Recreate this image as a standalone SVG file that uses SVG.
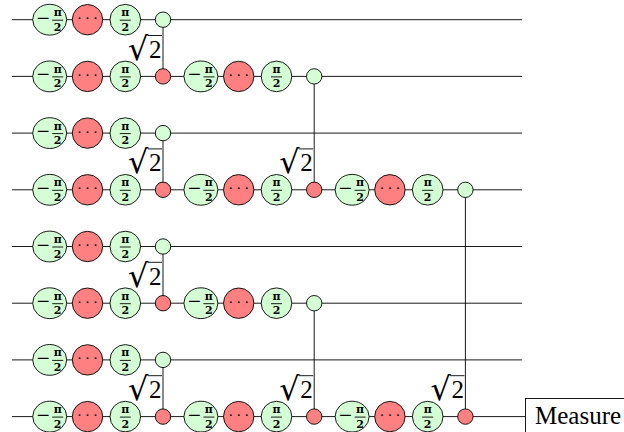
<svg xmlns="http://www.w3.org/2000/svg" width="624" height="432" viewBox="0 0 624 432">
<style>
text{font-family:"DejaVu Serif","Liberation Serif",serif;fill:#000}
.g{fill:#d4ffd4;stroke:#000;stroke-width:.9}
.r{fill:#ff8080;stroke:#000;stroke-width:.9}
.w{stroke:#000;stroke-width:.9;fill:none}
.b{stroke:#000;stroke-width:.9;fill:none}
.f{font-size:11px;font-weight:bold;text-anchor:middle}
.m{font-family:"Liberation Serif",serif;font-size:23px;text-anchor:middle}
.d{font-family:"Liberation Serif",serif;font-size:15px;text-anchor:middle;letter-spacing:3px}
.s{font-family:"Liberation Serif",serif;font-size:25px}
.t{font-family:"DejaVu Sans",sans-serif;font-size:32px}
.l{font-family:"Liberation Serif",serif;font-size:25px}
</style>
<g id="connectors" class="w">
<path d="M12 19.7H522M12 76.4H522M12 133.1H522M12 189.8H522M12 246.5H522M12 303.2H522M12 359.9H522M12 416.6H525"/>
<path d="M163 19.7V76.4M163 133.1V189.8M163 246.5V303.2M163 359.9V416.6M314.2 76.4V189.8M314.2 303.2V416.6M465.4 189.8V416.6"/>
</g>
<g id="n0a" transform="translate(49.7,19.7)"><ellipse class="g" rx="17" ry="15.4"/><text class="m" x="-6.500" y="6">−</text><text class="f" x="8" y="-3.500">π</text><path class="b" d="M2.500 0.500H13.500"/><text class="f" x="8" y="11">2</text></g>
<g id="n0b" transform="translate(87.5,19.7)"><circle class="r" r="15.2"/><text class="d" x="1.500" y="3.500">···</text></g>
<g id="n0c" transform="translate(125.3,19.7)"><circle class="g" r="15.3"/><text class="f" y="-3.500">π</text><path class="b" d="M-5.500 0.500H5.500"/><text class="f" y="11">2</text></g>
<g id="n0z" transform="translate(163,19.7)"><circle class="g" r="7.7"/></g>
<g id="n1a" transform="translate(49.7,76.4)"><ellipse class="g" rx="17" ry="15.4"/><text class="m" x="-6.500" y="6">−</text><text class="f" x="8" y="-3.500">π</text><path class="b" d="M2.500 0.500H13.500"/><text class="f" x="8" y="11">2</text></g>
<g id="n1b" transform="translate(87.5,76.4)"><circle class="r" r="15.2"/><text class="d" x="1.500" y="3.500">···</text></g>
<g id="n1c" transform="translate(125.3,76.4)"><circle class="g" r="15.3"/><text class="f" y="-3.500">π</text><path class="b" d="M-5.500 0.500H5.500"/><text class="f" y="11">2</text></g>
<g id="n1z" transform="translate(163,76.4)"><circle class="r" r="7.7"/></g>
<g id="n1d" transform="translate(200.9,76.4)"><ellipse class="g" rx="17" ry="15.4"/><text class="m" x="-6.500" y="6">−</text><text class="f" x="8" y="-3.500">π</text><path class="b" d="M2.500 0.500H13.500"/><text class="f" x="8" y="11">2</text></g>
<g id="n1e" transform="translate(238.7,76.4)"><circle class="r" r="15.2"/><text class="d" x="1.500" y="3.500">···</text></g>
<g id="n1f" transform="translate(276.5,76.4)"><circle class="g" r="15.3"/><text class="f" y="-3.500">π</text><path class="b" d="M-5.500 0.500H5.500"/><text class="f" y="11">2</text></g>
<g id="n1y" transform="translate(314.2,76.4)"><circle class="g" r="7.7"/></g>
<g id="n2a" transform="translate(49.7,133.1)"><ellipse class="g" rx="17" ry="15.4"/><text class="m" x="-6.500" y="6">−</text><text class="f" x="8" y="-3.500">π</text><path class="b" d="M2.500 0.500H13.500"/><text class="f" x="8" y="11">2</text></g>
<g id="n2b" transform="translate(87.5,133.1)"><circle class="r" r="15.2"/><text class="d" x="1.500" y="3.500">···</text></g>
<g id="n2c" transform="translate(125.3,133.1)"><circle class="g" r="15.3"/><text class="f" y="-3.500">π</text><path class="b" d="M-5.500 0.500H5.500"/><text class="f" y="11">2</text></g>
<g id="n2z" transform="translate(163,133.1)"><circle class="g" r="7.7"/></g>
<g id="n3a" transform="translate(49.7,189.8)"><ellipse class="g" rx="17" ry="15.4"/><text class="m" x="-6.500" y="6">−</text><text class="f" x="8" y="-3.500">π</text><path class="b" d="M2.500 0.500H13.500"/><text class="f" x="8" y="11">2</text></g>
<g id="n3b" transform="translate(87.5,189.8)"><circle class="r" r="15.2"/><text class="d" x="1.500" y="3.500">···</text></g>
<g id="n3c" transform="translate(125.3,189.8)"><circle class="g" r="15.3"/><text class="f" y="-3.500">π</text><path class="b" d="M-5.500 0.500H5.500"/><text class="f" y="11">2</text></g>
<g id="n3z" transform="translate(163,189.8)"><circle class="r" r="7.7"/></g>
<g id="n3d" transform="translate(200.9,189.8)"><ellipse class="g" rx="17" ry="15.4"/><text class="m" x="-6.500" y="6">−</text><text class="f" x="8" y="-3.500">π</text><path class="b" d="M2.500 0.500H13.500"/><text class="f" x="8" y="11">2</text></g>
<g id="n3e" transform="translate(238.7,189.8)"><circle class="r" r="15.2"/><text class="d" x="1.500" y="3.500">···</text></g>
<g id="n3f" transform="translate(276.5,189.8)"><circle class="g" r="15.3"/><text class="f" y="-3.500">π</text><path class="b" d="M-5.500 0.500H5.500"/><text class="f" y="11">2</text></g>
<g id="n3y" transform="translate(314.2,189.8)"><circle class="r" r="7.7"/></g>
<g id="n3g" transform="translate(352.1,189.8)"><ellipse class="g" rx="17" ry="15.4"/><text class="m" x="-6.500" y="6">−</text><text class="f" x="8" y="-3.500">π</text><path class="b" d="M2.500 0.500H13.500"/><text class="f" x="8" y="11">2</text></g>
<g id="n3h" transform="translate(389.9,189.8)"><circle class="r" r="15.2"/><text class="d" x="1.500" y="3.500">···</text></g>
<g id="n3i" transform="translate(427.7,189.8)"><circle class="g" r="15.3"/><text class="f" y="-3.500">π</text><path class="b" d="M-5.500 0.500H5.500"/><text class="f" y="11">2</text></g>
<g id="n3x" transform="translate(465.4,189.8)"><circle class="g" r="7.7"/></g>
<g id="n4a" transform="translate(49.7,246.5)"><ellipse class="g" rx="17" ry="15.4"/><text class="m" x="-6.500" y="6">−</text><text class="f" x="8" y="-3.500">π</text><path class="b" d="M2.500 0.500H13.500"/><text class="f" x="8" y="11">2</text></g>
<g id="n4b" transform="translate(87.5,246.5)"><circle class="r" r="15.2"/><text class="d" x="1.500" y="3.500">···</text></g>
<g id="n4c" transform="translate(125.3,246.5)"><circle class="g" r="15.3"/><text class="f" y="-3.500">π</text><path class="b" d="M-5.500 0.500H5.500"/><text class="f" y="11">2</text></g>
<g id="n4z" transform="translate(163,246.5)"><circle class="g" r="7.7"/></g>
<g id="n5a" transform="translate(49.7,303.2)"><ellipse class="g" rx="17" ry="15.4"/><text class="m" x="-6.500" y="6">−</text><text class="f" x="8" y="-3.500">π</text><path class="b" d="M2.500 0.500H13.500"/><text class="f" x="8" y="11">2</text></g>
<g id="n5b" transform="translate(87.5,303.2)"><circle class="r" r="15.2"/><text class="d" x="1.500" y="3.500">···</text></g>
<g id="n5c" transform="translate(125.3,303.2)"><circle class="g" r="15.3"/><text class="f" y="-3.500">π</text><path class="b" d="M-5.500 0.500H5.500"/><text class="f" y="11">2</text></g>
<g id="n5z" transform="translate(163,303.2)"><circle class="r" r="7.7"/></g>
<g id="n5d" transform="translate(200.9,303.2)"><ellipse class="g" rx="17" ry="15.4"/><text class="m" x="-6.500" y="6">−</text><text class="f" x="8" y="-3.500">π</text><path class="b" d="M2.500 0.500H13.500"/><text class="f" x="8" y="11">2</text></g>
<g id="n5e" transform="translate(238.7,303.2)"><circle class="r" r="15.2"/><text class="d" x="1.500" y="3.500">···</text></g>
<g id="n5f" transform="translate(276.5,303.2)"><circle class="g" r="15.3"/><text class="f" y="-3.500">π</text><path class="b" d="M-5.500 0.500H5.500"/><text class="f" y="11">2</text></g>
<g id="n5y" transform="translate(314.2,303.2)"><circle class="g" r="7.7"/></g>
<g id="n6a" transform="translate(49.7,359.9)"><ellipse class="g" rx="17" ry="15.4"/><text class="m" x="-6.500" y="6">−</text><text class="f" x="8" y="-3.500">π</text><path class="b" d="M2.500 0.500H13.500"/><text class="f" x="8" y="11">2</text></g>
<g id="n6b" transform="translate(87.5,359.9)"><circle class="r" r="15.2"/><text class="d" x="1.500" y="3.500">···</text></g>
<g id="n6c" transform="translate(125.3,359.9)"><circle class="g" r="15.3"/><text class="f" y="-3.500">π</text><path class="b" d="M-5.500 0.500H5.500"/><text class="f" y="11">2</text></g>
<g id="n6z" transform="translate(163,359.9)"><circle class="g" r="7.7"/></g>
<g id="n7a" transform="translate(49.7,416.6)"><ellipse class="g" rx="17" ry="15.4"/><text class="m" x="-6.500" y="6">−</text><text class="f" x="8" y="-3.500">π</text><path class="b" d="M2.500 0.500H13.500"/><text class="f" x="8" y="11">2</text></g>
<g id="n7b" transform="translate(87.5,416.6)"><circle class="r" r="15.2"/><text class="d" x="1.500" y="3.500">···</text></g>
<g id="n7c" transform="translate(125.3,416.6)"><circle class="g" r="15.3"/><text class="f" y="-3.500">π</text><path class="b" d="M-5.500 0.500H5.500"/><text class="f" y="11">2</text></g>
<g id="n7z" transform="translate(163,416.6)"><circle class="r" r="7.7"/></g>
<g id="n7d" transform="translate(200.9,416.6)"><ellipse class="g" rx="17" ry="15.4"/><text class="m" x="-6.500" y="6">−</text><text class="f" x="8" y="-3.500">π</text><path class="b" d="M2.500 0.500H13.500"/><text class="f" x="8" y="11">2</text></g>
<g id="n7e" transform="translate(238.7,416.6)"><circle class="r" r="15.2"/><text class="d" x="1.500" y="3.500">···</text></g>
<g id="n7f" transform="translate(276.5,416.6)"><circle class="g" r="15.3"/><text class="f" y="-3.500">π</text><path class="b" d="M-5.500 0.500H5.500"/><text class="f" y="11">2</text></g>
<g id="n7y" transform="translate(314.2,416.6)"><circle class="r" r="7.7"/></g>
<g id="n7g" transform="translate(352.1,416.6)"><ellipse class="g" rx="17" ry="15.4"/><text class="m" x="-6.500" y="6">−</text><text class="f" x="8" y="-3.500">π</text><path class="b" d="M2.500 0.500H13.500"/><text class="f" x="8" y="11">2</text></g>
<g id="n7h" transform="translate(389.9,416.6)"><circle class="r" r="15.2"/><text class="d" x="1.500" y="3.500">···</text></g>
<g id="n7i" transform="translate(427.7,416.6)"><circle class="g" r="15.3"/><text class="f" y="-3.500">π</text><path class="b" d="M-5.500 0.500H5.500"/><text class="f" y="11">2</text></g>
<g id="n7x" transform="translate(465.4,416.6)"><circle class="r" r="7.7"/></g>
<g id="sqrt1" transform="translate(162,58)"><text class="t" x="-34" y="2">√</text><path class="b" d="M-14-22.500H0"/><text class="s" x="-13">2</text></g>
<g id="sqrt2" transform="translate(162,171.400)"><text class="t" x="-34" y="2">√</text><path class="b" d="M-14-22.500H0"/><text class="s" x="-13">2</text></g>
<g id="sqrt3" transform="translate(162,284.800)"><text class="t" x="-34" y="2">√</text><path class="b" d="M-14-22.500H0"/><text class="s" x="-13">2</text></g>
<g id="sqrt4" transform="translate(162,398.200)"><text class="t" x="-34" y="2">√</text><path class="b" d="M-14-22.500H0"/><text class="s" x="-13">2</text></g>
<g id="sqrt5" transform="translate(313.200,171.400)"><text class="t" x="-34" y="2">√</text><path class="b" d="M-14-22.500H0"/><text class="s" x="-13">2</text></g>
<g id="sqrt6" transform="translate(313.200,398.200)"><text class="t" x="-34" y="2">√</text><path class="b" d="M-14-22.500H0"/><text class="s" x="-13">2</text></g>
<g id="sqrt7" transform="translate(464.400,398.200)"><text class="t" x="-34" y="2">√</text><path class="b" d="M-14-22.500H0"/><text class="s" x="-13">2</text></g>
<g id="measure"><rect class="w" x="525.500" y="398.500" width="110" height="50" fill="#fff"/><text class="l" x="535" y="423.500">Measure</text></g>
</svg>
